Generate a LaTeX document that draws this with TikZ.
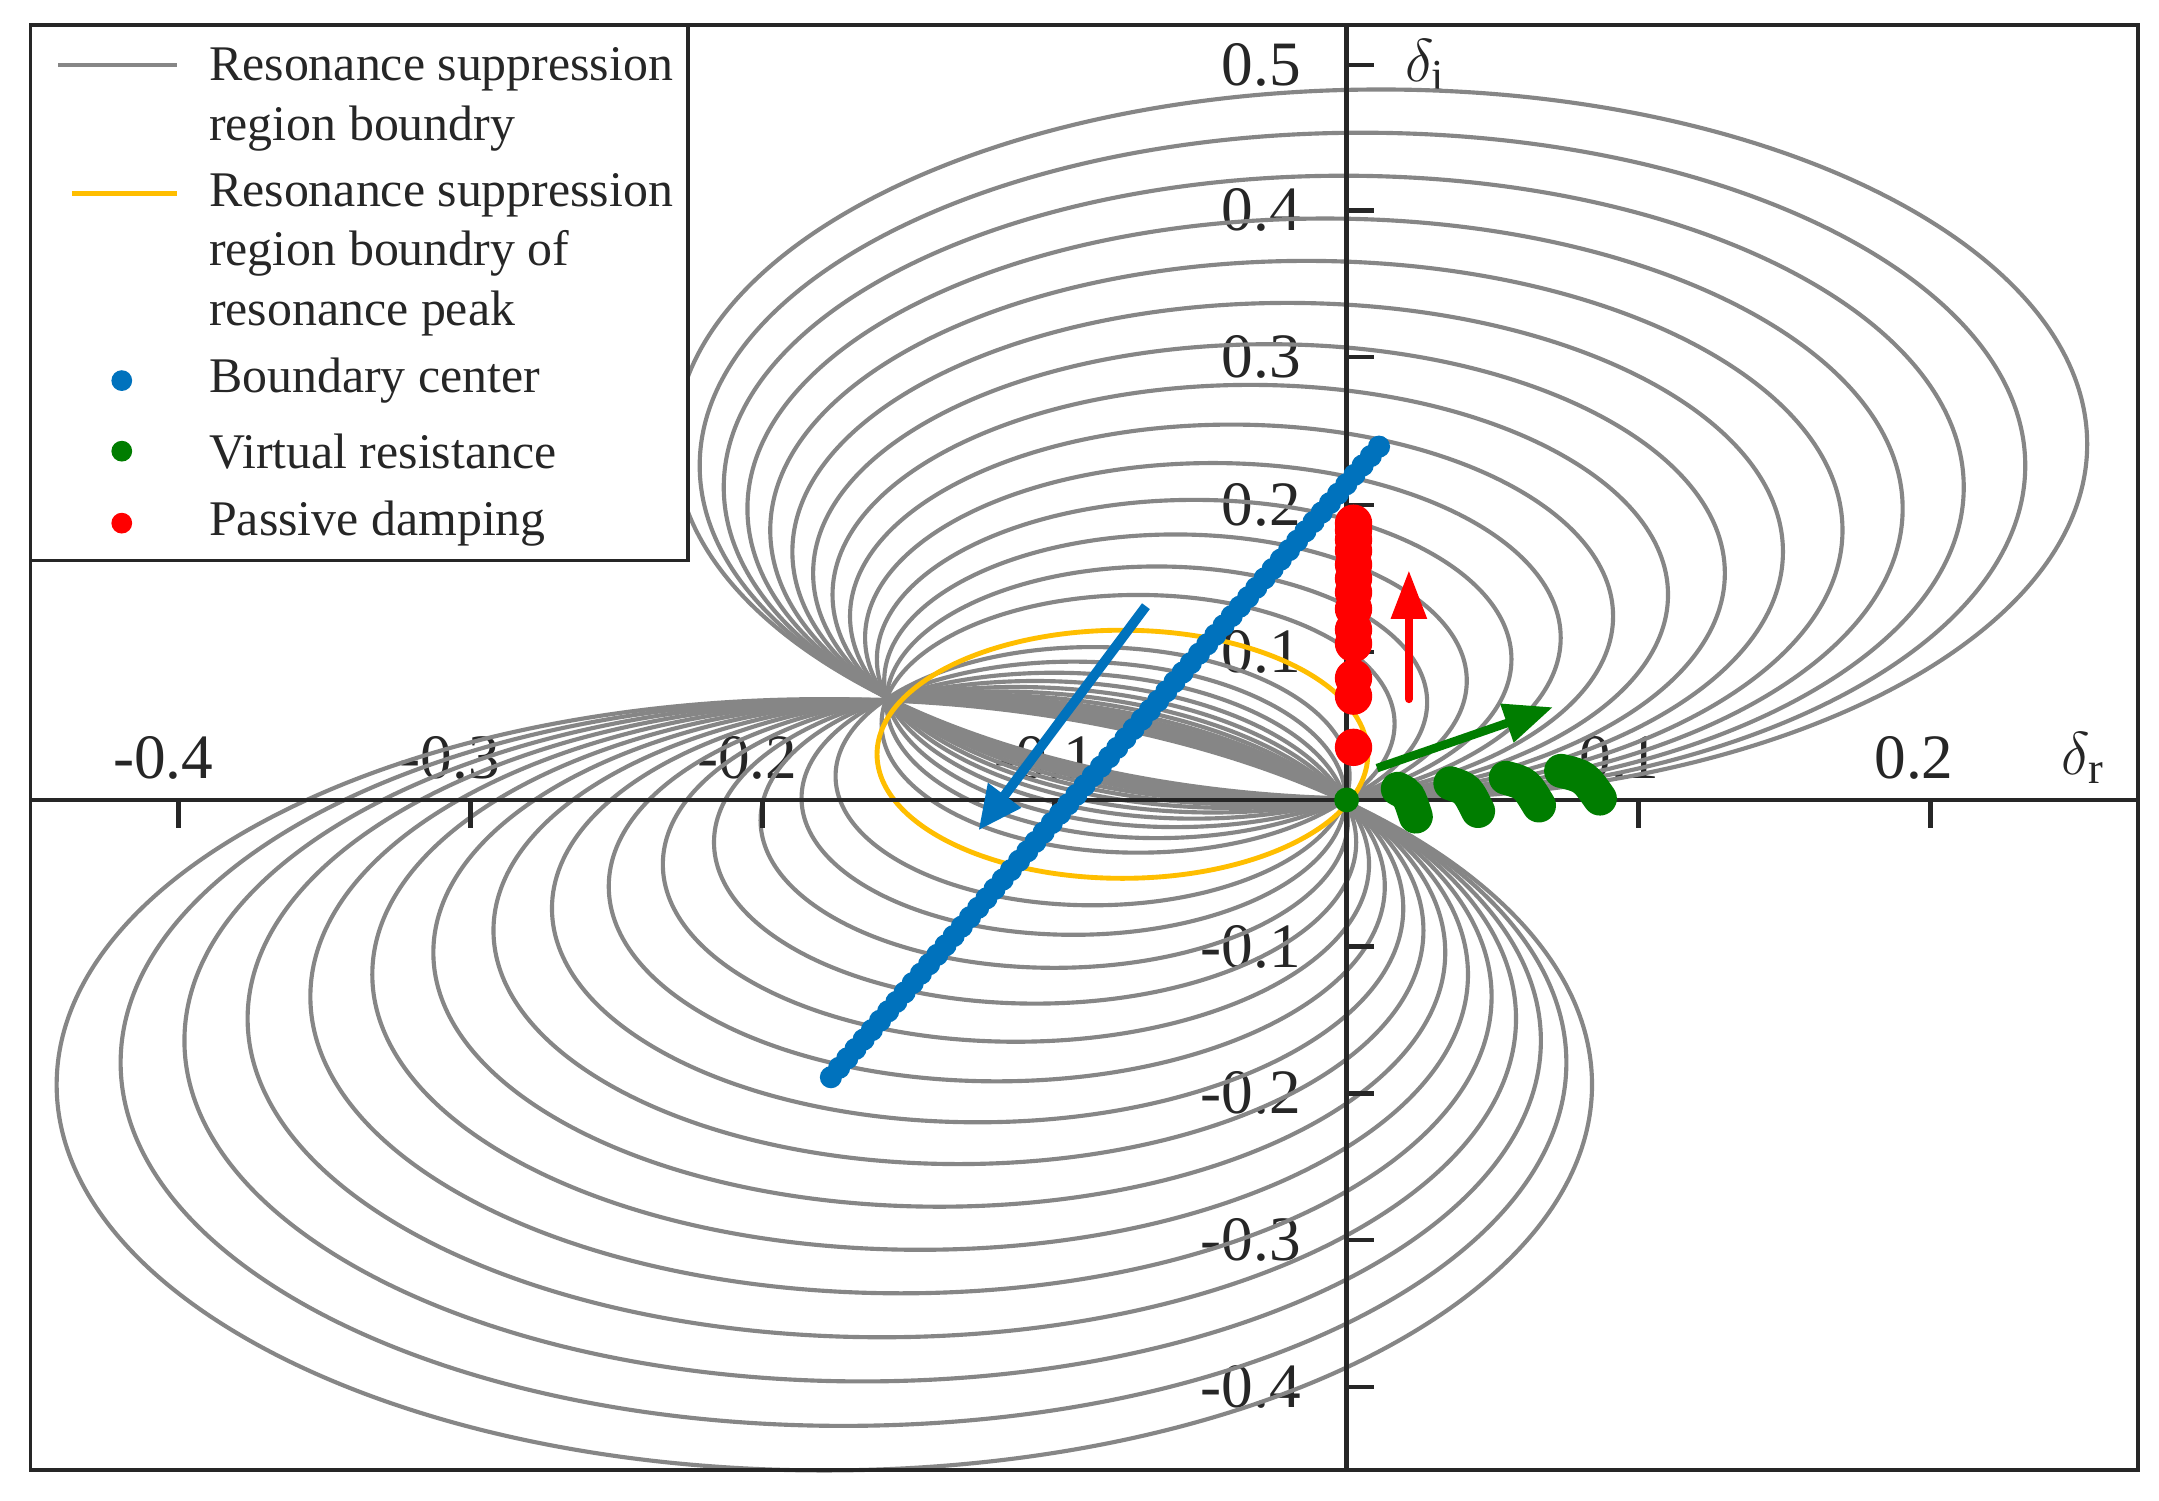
\documentclass[tikz,border=0pt]{standalone}
\usepackage{fontspec}
\setmainfont{Liberation Serif}
\usetikzlibrary{arrows.meta}
\definecolor{mblue}{RGB}{0,114,189}
\definecolor{myel}{RGB}{255,190,0}
\definecolor{mgreen}{RGB}{0,125,0}
\begin{document}
\begin{tikzpicture}[x=0.02cm,y=0.02cm,
  gc/.style={draw=gray!95,line width=1.7pt},
  ax/.style={draw=black!85,line width=1.8pt},
  tk/.style={font=\fontsize{26}{26}\selectfont,text=black!85},
  lg/.style={font=\fontsize{20.5}{24.5}\selectfont,anchor=west,align=left,text=black!85}]
\useasboundingbox (0,0) rectangle (1560,-1084);
\fill[white] (0,0) rectangle (1560,-1084);
% tick labels (behind curves)
\foreach \x/\l in {118/-0.4,325/-0.3,540/-0.2,755/-0.1,1170/0.1,1383/0.2}
  \node[tk] (xl\l) at (\x,-548) {\l};
\foreach \y/\l in {47/0.5,152/0.4,258/0.3,365/0.2,471/0.1,684/-0.1,790/-0.2,896/-0.3,1002/-0.4}
  \node[tk,anchor=east] (yl\l) at (946,-\y) {\l};
\node[tk] (dr) at (1505,-548) {$\delta_{\mathrm{r}}$};
\node[tk] (di) at (1030,-47) {$\delta_{\mathrm{i}}$};
% circles
\foreach \t in {0.019,0.035,...,0.232,-0.02,-0.0364,...,-0.2505}{
  \pgfmathsetmacro\cx{-0.079+0.4*\t}
  \pgfmathsetmacro\cy{0.0345+0.916*\t}
  \pgfmathsetmacro\r{sqrt(\cx*\cx+\cy*\cy)}
  \pgfmathsetmacro\rx{2110*\r*0.5669}
  \pgfmathsetmacro\ry{1060*\r*0.5669}
  \draw[gc] (973+2110*\cx,-578+1060*\cy) ellipse [x radius=\rx pt,y radius=\ry pt];
}
\draw[draw=myel,line width=2pt] (811,-545) ellipse [x radius={178*0.5669pt},y radius={90*0.5669pt}];
% axes
\draw[ax] (22,-578) -- (1545,-578);
\draw[ax] (973,-18) -- (973,-1062);
\foreach \x in {129,340,551,762,1184,1395} \draw[ax] (\x,-578) -- (\x,-598);
\foreach \y in {47,152,258,365,471,684,790,896,1002} \draw[ax] (973,-\y) -- (993,-\y);
\draw[black!85,line width=1.6pt] (22,-18) rectangle (1545,-1062);
% blue centers
\foreach \t in {-0.244,-0.237,...,0.228}{
  \pgfmathsetmacro\bx{973+2110*(-0.079+0.4*\t)}
  \pgfmathsetmacro\by{-578+1060*(0.0345+0.916*\t)}
  \fill[mblue] (\bx,\by) circle [radius=8];
}
% red dots
\foreach \y in {540,503,490,465,455,440,428,418,408,398,390,383,378}
  \fill[red] (978,-\y) circle [radius=13.5];
% green
\fill[mgreen] (973,-578) circle [radius=9];
\foreach \a/\b/\c in {1010/1023/570,1048/1068/566,1088/1112/562,1128/1156/557}{
  \pgfmathsetmacro\m{\a+0.6*(\b-\a)}
  \draw[mgreen,line width=14pt,line cap=round] (\a,-\c) .. controls (\m,-\c-4) .. (\b,-\c-20);
}
% arrows
\coordinate (ba) at (828,-438); \coordinate (bb) at (707,-600);
\draw[mblue,line width=4pt,-{Triangle[length=18,width=16]}] (ba) -- (bb);
\coordinate (ra) at (1018,-505); \coordinate (rb) at (1018,-412);
\draw[red,line width=3.5pt,line cap=round,-{Triangle[length=20,width=14]}] (ra) -- (rb);
\coordinate (ga) at (995,-555); \coordinate (gb) at (1122,-511);
\draw[mgreen,line width=3.5pt,-{Triangle[length=20,width=16]}] (ga) -- (gb);
% legend
\draw[black!85,line width=1.6pt,fill=white] (22,-18) rectangle (497,-405);
\draw[gray!95,line width=2pt] (42,-47) -- (128,-47);
\node[lg] (l1) at (145,-72) {Resonance suppression\\region boundry};
\draw[draw=myel,line width=2pt] (52,-140) -- (128,-140);
\node[lg] (l2) at (145,-184) {Resonance suppression\\region boundry of\\resonance peak};
\fill[mblue] (88,-275) circle [radius=7.5];
\node[lg] (l3) at (145,-275) {Boundary center};
\fill[mgreen] (88,-326) circle [radius=7.5];
\node[lg] (l4) at (145,-326) {Virtual resistance};
\fill[red] (88,-378) circle [radius=7.5];
\node[lg] (l5) at (145,-378) {Passive damping};
\end{tikzpicture}
\end{document}
